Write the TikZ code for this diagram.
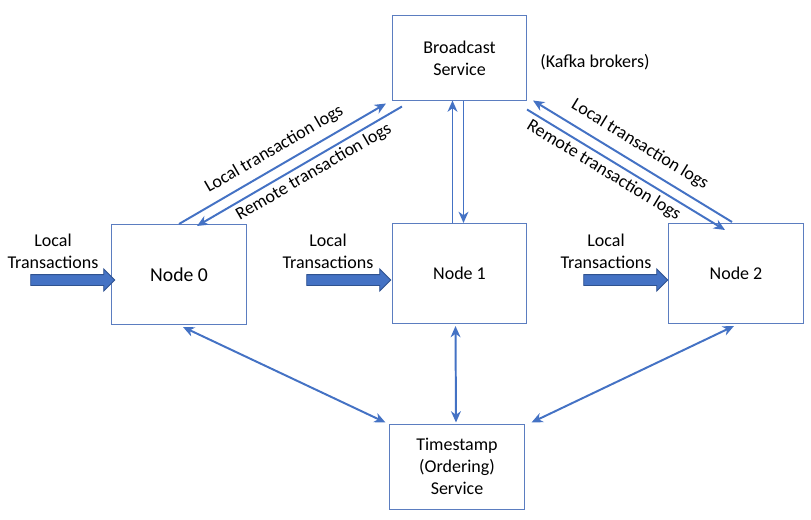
\documentclass[tikz,border=0pt]{standalone}
\usepackage{fontspec}
\setmainfont{Carlito}
\usetikzlibrary{arrows.meta}
\usetikzlibrary{shapes.arrows}
\usetikzlibrary{calc}

\definecolor{linkblue}{HTML}{4472C4}
\definecolor{boxblue}{HTML}{5B7DC0}
\definecolor{edgeblue}{HTML}{2F528F}

\begin{document}
\begin{tikzpicture}
[x=0.025cm,y=-0.025cm,%
  every node/.style={font=\fontsize{12.8}{15.6}\selectfont},%
  box/.style={draw=boxblue,line width=0.7pt,align=center,inner sep=0pt,
    minimum width=3.35cm,minimum height=2.5cm},%
  link/.style={draw=linkblue,line width=1.4pt,-{Stealth[length=8pt,width=7pt,inset=2.5pt]}},%
  twoway/.style={draw=linkblue,line width=1.4pt,
    {Stealth[length=8pt,width=7pt,inset=2.5pt]}-{Stealth[length=8pt,width=7pt,inset=2.5pt]}},%
  loglabel/.style={sloped,inner sep=0.5pt},%
  fat/.style={single arrow,fill=linkblue,draw=edgeblue,line width=0.6pt,
    minimum height=2.1cm,inner xsep=0pt,inner ysep=0.125cm,
    single arrow head extend=0.14cm,single arrow head indent=0pt}]
\useasboundingbox (0,0) rectangle (811,520);

% services and nodes
\node[box,minimum height=2.1cm] (bc) at (459.5,58) {Broadcast\\Service};
\node (kafka) at (595,62) {(Kafka brokers)};
\node[box] (n0) at (179,274.5) {\fontsize{14}{16}\selectfont Node 0};
\node[box] (n1) at (459.5,273.5) {Node 1};
\node[box] (n2) at (736,273.5) {Node 2};
\node[box,minimum height=2.125cm] (ts) at (457,466.5) {Timestamp\\(Ordering)\\Service};

% incoming local transactions
\node[fat] (in0) at (70,280) {};
\node[fat] (in1) at (346,280) {};
\node[fat] (in2) at (623,280) {};
\node[align=center] (t0) at (53,251) {Local\\Transactions};
\node[align=center] (t1) at (328,251) {Local\\Transactions};
\node[align=center] (t2) at (606,251) {Local\\Transactions};

% log traffic
\draw[link] (n0.north) -- ($(bc.south west)+(-6,3)$)
  node[loglabel,above=5pt,pos=0.5] {Local transaction logs};
\draw[link] ($(bc.south west)+(10,6)$) -- ($(n0.north)+(18,2)$)
  node[loglabel,below=2pt,pos=0.46] {Remote transaction logs};
\draw[link] ($(n1.north)+(-7,0)$) -- ($(bc.south)+(-7,0)$);
\draw[link] ($(bc.south)+(4,0)$) -- ($(n1.north)+(4,0)$);
\draw[link] ($(n2.north)+(-4,-1)$) -- ($(bc.south east)+(6,0)$)
  node[loglabel,above=6pt,pos=0.51] {Local transaction logs};
\draw[link] ($(bc.south east)+(0,9)$) -- ($(n2.north)+(-11,7)$)
  node[loglabel,below=2pt,pos=0.42] {Remote transaction logs};

% ordering
\draw[twoway] ($(n0.south)+(4,2)$) -- ($(ts.north west)+(-4,-1)$);
\draw[twoway] ($(n1.south)+(-4,2)$) -- ($(ts.north)+(-1,-1)$);
\draw[twoway] ($(n2.south)+(-2,2)$) -- ($(ts.north east)+(7,-1)$);
\end{tikzpicture}
\end{document}
